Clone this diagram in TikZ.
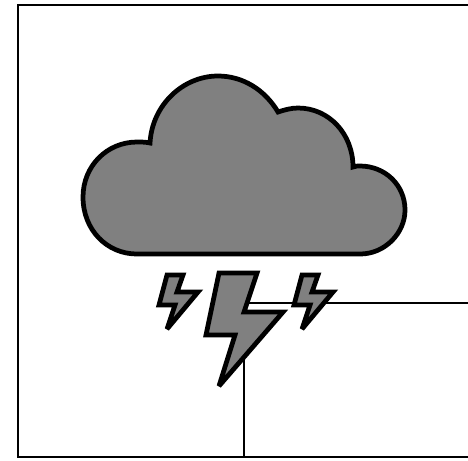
\documentclass[tikz,border=0pt]{standalone}
\usepackage{xcolor}
\usepackage{tikz}
\definecolor{cloudgray}{RGB}{128, 128, 128}
\tikzset{
    framing/.style={black, line width=0.7pt},
    weather/.style={fill=cloudgray, draw=black, line width=1.35pt, miter limit=4},
}
\begin{document}
\begin{tikzpicture}[x=0.01cm, y=-0.01cm]
    \useasboundingbox (0,0) rectangle (468,460);

    % Marco abierto por la derecha
    \draw[framing] (468,5) -- (18,5) -- (18,457) -- (468,457);

    % Lineas que salen de los rayos
    \coordinate (Corner) at (244,303);
    \coordinate (RightEnd) at (468,303);
    \coordinate (BottomEnd) at (244,457);
    \draw[framing] (Corner) -- (RightEnd);
    \draw[framing] (Corner) -- (BottomEnd);

    % Nube
    \draw[weather] (150,143) .. controls (152,105) and (183,76) .. (218,76)
        .. controls (243,76) and (265,90) .. (278,112)
        .. controls (284,110) and (291,108) .. (298,108)
        .. controls (329,108) and (353,134) .. (353,167)
        .. controls (355,166) and (358,166) .. (360,166)
        .. controls (385,166) and (405,185) .. (405,210)
        .. controls (405,233) and (385,254) .. (360,254)
        -- (137,254)
        .. controls (107,254) and (83,230) .. (83,197)
        .. controls (83,166) and (107,142) .. (137,142)
        .. controls (141,142) and (146,142) .. (150,143) -- cycle;

    % Rayo grande
    \draw[weather] (219,273) -- (257,273) -- (244,312) -- (283,312) -- (219,386)
        -- (235,335) -- (206,335) -- cycle;

    % Rayos chicos
    \foreach \dx in {0,135}{
        \draw[weather, xshift=\dx*0.01cm] (167,275) -- (183,275) -- (177,292) -- (198,292)
            -- (167,329) -- (175,305) -- (159,305) -- cycle;
    }
\end{tikzpicture}
\end{document}
